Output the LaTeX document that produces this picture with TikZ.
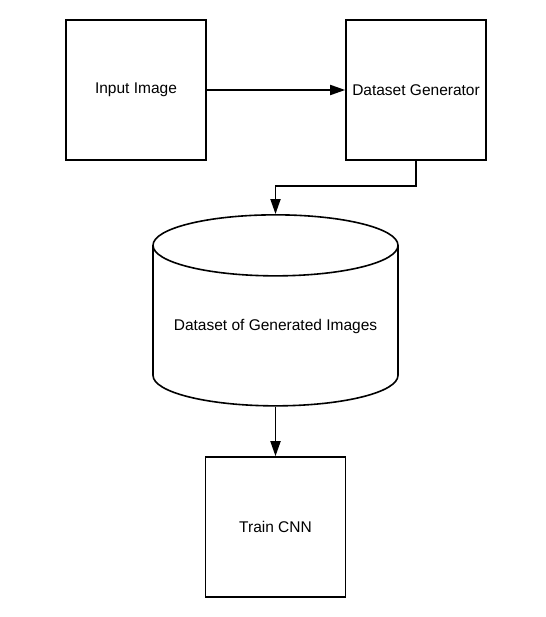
\documentclass[tikz,border=0pt]{standalone}
\usepackage{fontspec}
\setmainfont{Liberation Sans}
\usetikzlibrary{shapes.geometric,arrows.meta}

\tikzset{
    block/.style={draw, line width=1.6pt, minimum size=140pt, inner sep=0pt,
        font=\fontsize{15.5}{18}\selectfont},
    store/.style={draw, line width=1.6pt, cylinder, shape border rotate=90,
        aspect=0.3, minimum width=245pt, minimum height=191pt, inner sep=0pt,
        font=\fontsize{15.5}{18}\selectfont},
    flow/.style={line width=1.8pt, -{Triangle[length=15pt,width=10pt]}}
}

\begin{document}
\begin{tikzpicture}[x=1pt,y=-1pt]
        % Cornice
        \useasboundingbox (0,0) rectangle (545,617);

        % Blocchi
        \node[block] (input) at (136,90) {Input Image};
        \node[block] (gen) at (416,90) {Dataset Generator};
        \node[store] (db) at (275.5,326) {Dataset of Generated Images};
        \node[block] (train) at (275.5,527) {Train CNN};

        % Collegamenti
        \draw[flow] (input.east) -- (gen.west);
        \draw[flow] (gen.south) -- ++(0,25) -| (db.north); % gomito
        \draw[flow] (db.south) -- (train.north);
\end{tikzpicture}
\end{document}
